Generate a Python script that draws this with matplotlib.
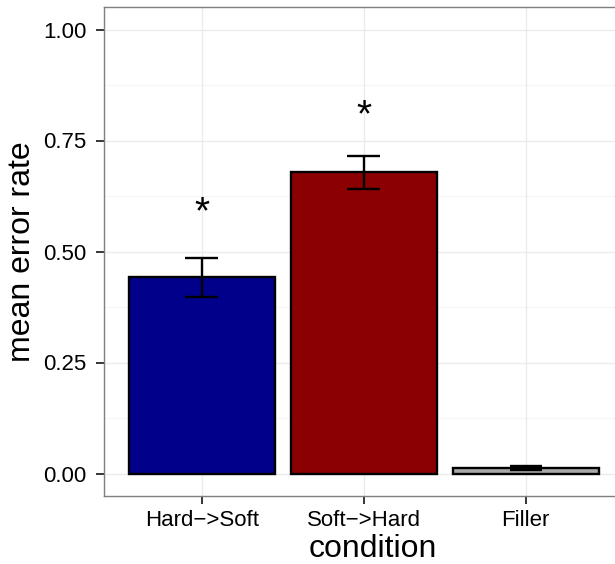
import matplotlib
matplotlib.use("Agg")
import matplotlib.pyplot as plt
import numpy as np

plt.rcParams['font.family'] = ['Liberation Sans', 'DejaVu Sans']

# Data
conditions = ["Hard\u2212>Soft", "Soft\u2212>Hard", "Filler"]
mean_error = [0.442, 0.678, 0.013]
err_low = [0.398, 0.641, 0.008]
err_high = [0.485, 0.716, 0.018]
bar_colors = ["#00008B", "#8B0000", "#A9A9A9"]
star_labels = ["*", "*", ""]
star_y = [0.587, 0.805, 0.0]
y_ticks = [0.0, 0.25, 0.5, 0.75, 1.0]
y_tick_labels = ["0.00", "0.25", "0.50", "0.75", "1.00"]

fig = plt.figure(figsize=(6.15, 5.64), dpi=100)
# panel extends beyond right edge (reference is cropped)
ax = fig.add_axes([104.4/615, (564-495.7)/564, (623-104.4)/615, (495.7-7.3)/564])

x = np.arange(len(conditions)) + 1

ax.set_xlim(0.4, 3.6)
ax.set_ylim(-0.05, 1.05)

# grid
for v in [0.125, 0.375, 0.625, 0.875]:
    ax.axhline(v, color="#F7F7F7", lw=1.0, zorder=0)
for v in y_ticks:
    ax.axhline(v, color="#EBEBEB", lw=1.0, zorder=0)
for v in x:
    ax.axvline(v, color="#EBEBEB", lw=1.0, zorder=0)

ax.bar(x, mean_error, width=0.9, color=bar_colors, edgecolor="black", linewidth=1.7, zorder=2)

ax.vlines(x, err_low, err_high, color="black", lw=1.7, zorder=3)
ax.hlines(err_low, x - 0.1, x + 0.1, color="black", lw=1.7, zorder=3)
ax.hlines(err_high, x - 0.1, x + 0.1, color="black", lw=1.7, zorder=3)

for xi, s, yy in zip(x, star_labels, star_y):
    if s:
        ax.text(xi, yy, s, ha="center", va="center", fontsize=28, color="black", zorder=4)

ax.set_xticks(x)
ax.set_xticklabels(conditions)
ax.set_yticks(y_ticks)
ax.set_yticklabels(y_tick_labels)
ax.tick_params(axis="both", length=6, width=1.1, color="black", labelsize=16, labelcolor="black")
ax.tick_params(axis="y", pad=7)
ax.tick_params(axis="x", pad=4)

for sp in ax.spines.values():
    sp.set_color("#7F7F7F")
    sp.set_linewidth(1.0)

ax.set_xlabel("condition", fontsize=23, labelpad=0)
ax.xaxis.set_label_coords(0.517, -0.078)
ax.set_ylabel("mean error rate", fontsize=23, labelpad=4)

fig.savefig("out.png", dpi=100)
